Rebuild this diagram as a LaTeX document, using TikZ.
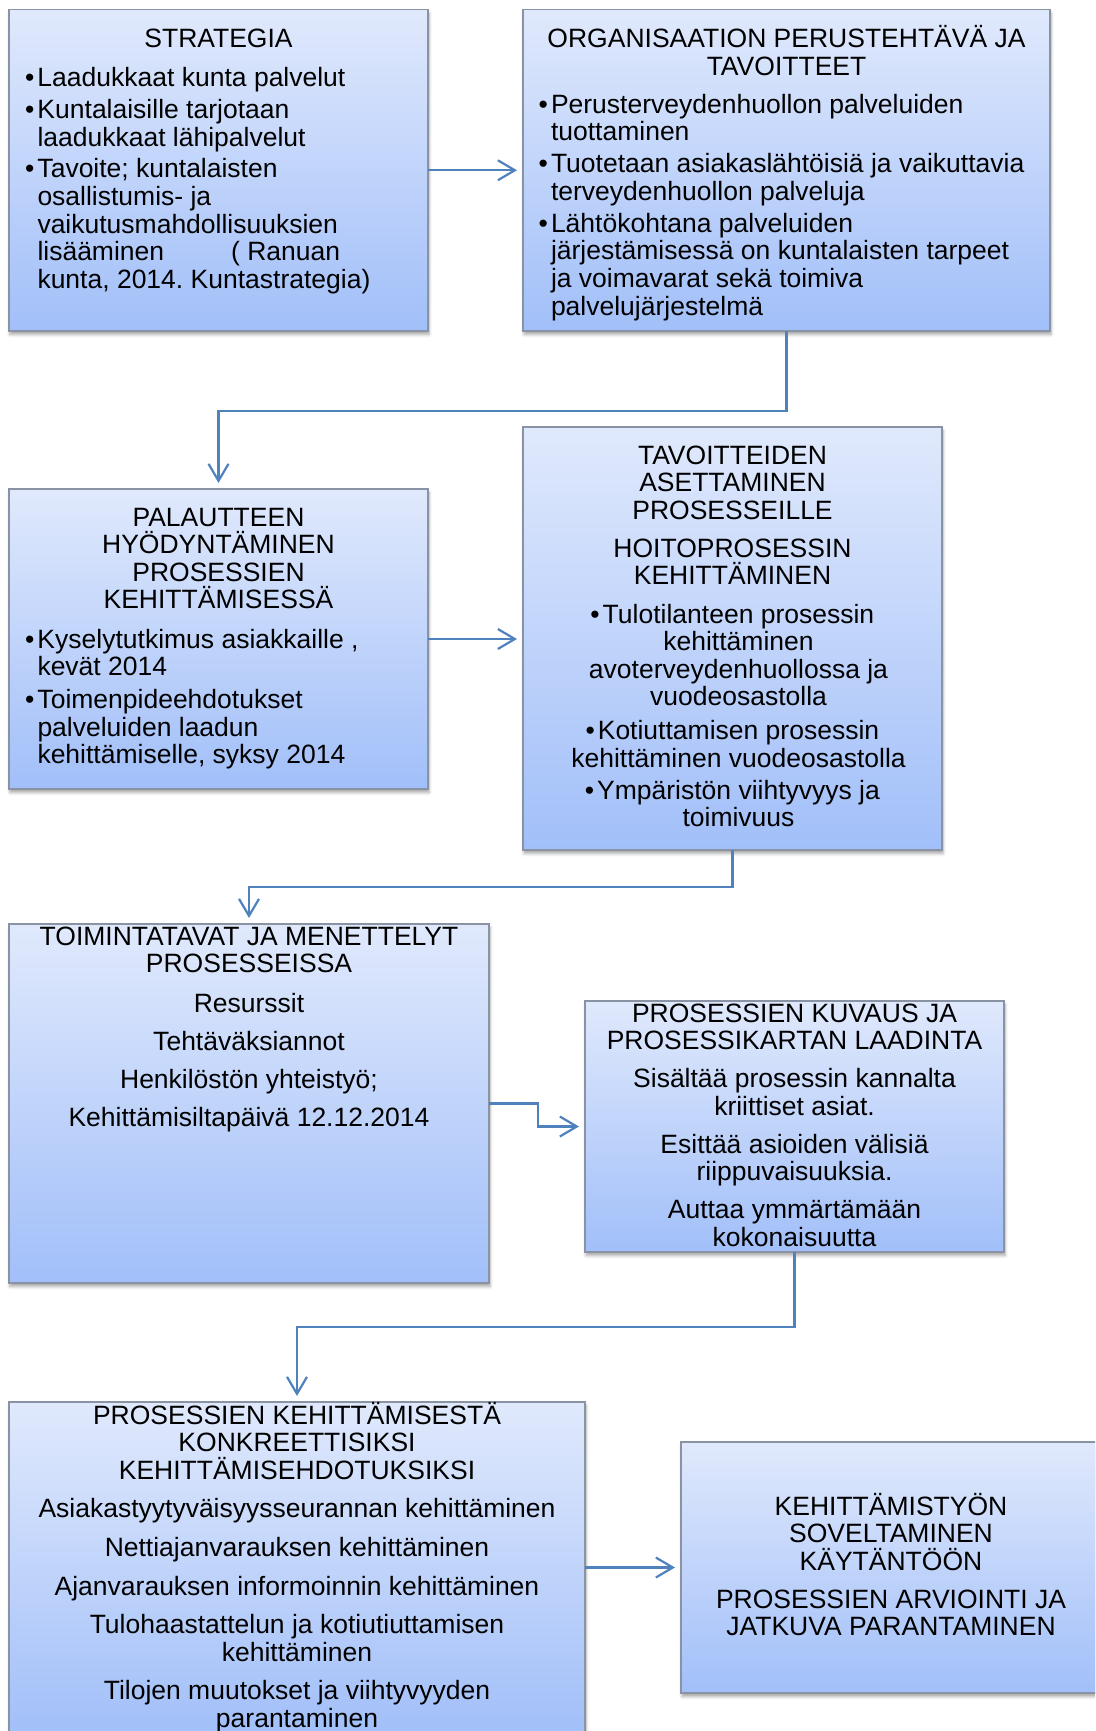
\documentclass[tikz,border=0pt]{standalone}
\usepackage{fontspec}
\setmainfont{Liberation Sans}
\usetikzlibrary{arrows.meta,shadows.blur,calc}
\definecolor{boxtop}{RGB}{224,233,252}
\definecolor{boxbot}{RGB}{161,191,249}
\definecolor{boxline}{RGB}{138,147,163}
\definecolor{connblue}{RGB}{79,129,189}
\newcommand\myfnt{\fontsize{26.5}{27.6}\selectfont\lineskiplimit=-60pt\frenchspacing\relax}
\newcommand\bul{\llap{•\hspace{3pt}}}
\newcommand\fst{\rule{0pt}{27pt}}
\begin{document}
\begin{tikzpicture}[x=1pt,y=-1pt,
  box/.style={rectangle, draw=boxline, line width=1.3pt, top color=boxtop, bottom color=boxbot,
    inner sep=0pt, outer sep=0pt, anchor=north west,
    blur shadow={shadow xshift=1pt, shadow yshift=-3.5pt, shadow blur radius=3pt, shadow opacity=35}},
  txt/.style={inner sep=0pt, outer sep=0pt, font=\myfnt, text=black},
  ctxt/.style={txt, align=center, anchor=north},
  ltxt/.style={txt, align=left, anchor=north west},
  connector/.style={draw=connblue, line width=2.2pt, -{Straight Barb[length=17pt,width=20pt]}, shorten >=6pt}]
\useasboundingbox (0,0) rectangle (1095,1731);
\clip (0,0) rectangle (1095,1731);

% boxes
\node[box, minimum width=419pt, minimum height=321.5pt] (b1) at (9,9.5) {};
\node[box, minimum width=527pt, minimum height=321.5pt] (b2) at (523,9.5) {};
\node[box, minimum width=419pt, minimum height=300pt] (b3) at (9,489) {};
\node[box, minimum width=419pt, minimum height=423pt] (b4) at (523,427) {};
\node[box, minimum width=480pt, minimum height=359pt] (b5) at (9,924) {};
\node[box, minimum width=419pt, minimum height=251pt] (b6) at (585,1001) {};
\node[box, minimum width=576pt, minimum height=332pt] (b7) at (9,1402) {};
\node[box, minimum width=420pt, minimum height=251pt] (b8) at (681,1442) {};

% texts
\node[ctxt] (t1) at (218.5,21) {\fst STRATEGIA};
\node[ltxt] (t1b) at (37.5,59) {\fst\bul Laadukkaat kunta palvelut\\[4.4pt]\bul Kuntalaisille tarjotaan\\[1pt]laadukkaat lähipalvelut\\[3.6pt]\bul Tavoite; kuntalaisten\\osallistumis- ja\\vaikutusmahdollisuuksien\\lisääminen\hspace{67pt}( Ranuan\\kunta, 2014. Kuntastrategia)};

\node[ctxt] (t2) at (786.5,21) {\fst ORGANISAATION PERUSTEHTÄVÄ JA\\TAVOITTEET};
\node[ltxt] (t2b) at (551,86) {\fst\bul Perusterveydenhuollon palveluiden\\tuottaminen\\[4.4pt]\bul Tuotetaan asiakaslähtöisiä ja vaikuttavia\\terveydenhuollon palveluja\\[4.4pt]\bul Lähtökohtana palveluiden\\järjestämisessä on kuntalaisten tarpeet\\ja voimavarat sekä toimiva\\palvelujärjestelmä};

\node[ctxt] (t3) at (218.5,499) {\fst PALAUTTEEN\\HYÖDYNTÄMINEN\\PROSESSIEN\\KEHITTÄMISESSÄ};
\node[ltxt] (t3b) at (37.5,621) {\fst\bul Kyselytutkimus asiakkaille ,\\kevät 2014\\[5.4pt]\bul Toimenpideehdotukset\\palveluiden laadun\\kehittämiselle, syksy 2014};

\node[ctxt] (t4) at (732.5,437) {\fst TAVOITTEIDEN\\ASETTAMINEN\\PROSESSEILLE\\[10.4pt]HOITOPROSESSIN\\KEHITTÄMINEN};
\node[ctxt] (t4b) at (738.5,596) {\fst\bul Tulotilanteen prosessin\\kehittäminen\\avoterveydenhuollossa ja\\vuodeosastolla\\[6pt]\bul Kotiuttamisen prosessin\\kehittäminen vuodeosastolla\\[4.6pt]\bul Ympäristön viihtyvyys ja\\toimivuus};

\node[ctxt] (t5) at (249,918) {\fst TOIMINTATAVAT JA MENETTELYT\\PROSESSEISSA};
\node[ctxt] (t5b) at (249,985) {\fst Resurssit\\[10.6pt]Tehtäväksiannot\\[10.6pt]Henkilöstön yhteistyö;\\[10.6pt]Kehittämisiltapäivä 12.12.2014};

\node[ctxt] (t6) at (794.5,995) {\fst PROSESSIEN KUVAUS JA\\PROSESSIKARTAN LAADINTA\\[10.4pt]Sisältää prosessin kannalta\\kriittiset asiat.\\[10.4pt]Esittää asioiden välisiä\\riippuvaisuuksia.\\[10.4pt]Auttaa ymmärtämään\\kokonaisuutta};

\node[ctxt] (t7) at (297,1397) {\fst PROSESSIEN KEHITTÄMISESTÄ\\KONKREETTISIKSI\\KEHITTÄMISEHDOTUKSIKSI\\[11pt]Asiakastyytyväisyysseurannan kehittäminen\\[11pt]Nettiajanvarauksen kehittäminen\\[11pt]Ajanvarauksen informoinnin kehittäminen\\[11pt]Tulohaastattelun ja kotiutiuttamisen\\kehittäminen\\[11pt]Tilojen muutokset ja viihtyvyyden\\parantaminen};

\node[ctxt] (t8) at (891,1488) {\fst KEHITTÄMISTYÖN\\SOVELTAMINEN\\KÄYTÄNTÖÖN\\[10.4pt]PROSESSIEN ARVIOINTI JA\\JATKUVA PARANTAMINEN};

% connectors
\draw[connector] (b1.east) -- (b1.east -| b2.west);
\draw[connector] (b2.south) -- ++(0,80) -| (b3.north);
\draw[connector] (b3.east) -- (b3.east -| b4.west);
\draw[connector] (b4.south) -- ++(0,37) -| (b5.north);
\draw[connector] (b5.east) -- ++(49,0) |- (b6.west);
\draw[connector] (b6.south) -- ++(0,75) -| (b7.north);
\draw[connector] (b8.west -| b7.east) -- (b8.west);
\end{tikzpicture}
\end{document}
